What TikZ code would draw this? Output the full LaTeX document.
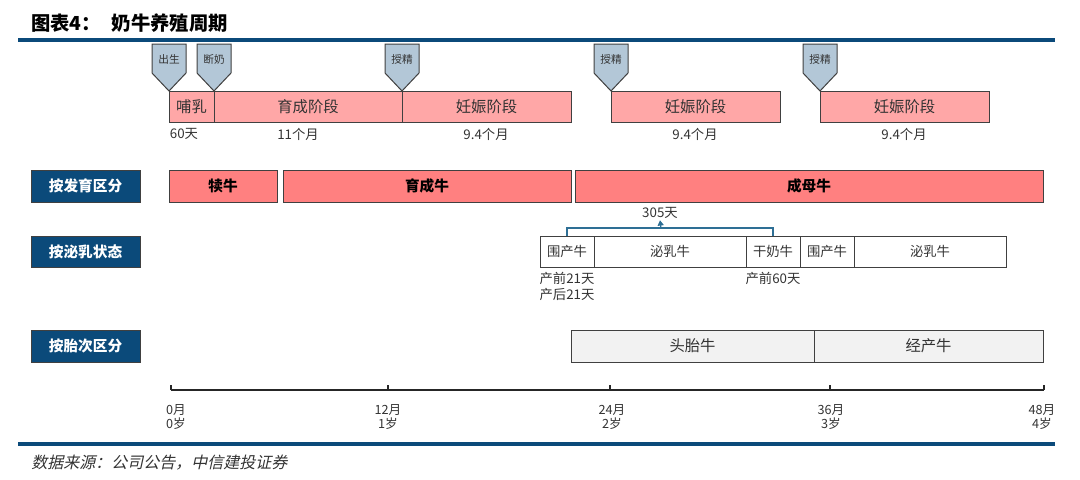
\documentclass[tikz,border=0pt]{standalone}
\usepackage{fontspec}
\setmainfont{Noto Sans CJK SC}
\newfontfamily\footfont{Noto Sans CJK SC}[FakeSlant=0.22]
\usetikzlibrary{arrows.meta}
\definecolor{navy}{HTML}{0B4A7A}
\definecolor{flagblue}{HTML}{B3C7D7}
\definecolor{stagepink}{HTML}{FFA7A7}
\definecolor{growred}{HTML}{FF8080}
\definecolor{paritygray}{HTML}{F2F2F2}
\definecolor{edgegray}{HTML}{404040}
\definecolor{txt}{HTML}{333333}
\definecolor{brk}{HTML}{2E6F95}
\newcommand\seg[7]{\node[#1, minimum width={(#4-#3)*0.75pt}, minimum height={(#6-#5)*0.75pt}] (#2) at ({(#3+#4)/2},{(#5+#6)/2}) {#7};}
\newcommand\flagat[3]{\draw[flagshape] (#2-17,44) -- (#2+17,44) -- (#2+17,73) -- (#2,91) -- (#2-17,73) -- cycle;
  \node[flagtext] (#1) at (#2,59) {#3};}
\begin{document}
\begin{tikzpicture}[x=0.75pt,y=-0.75pt,
  segbox/.style={draw=edgegray, line width=0.75pt, inner sep=0pt, outer sep=0pt},
  stagebox/.style={segbox, fill=stagepink, text=txt, font=\fontsize{11.5}{13}\selectfont},
  devbox/.style={segbox, fill=growred, text=black, font=\bfseries\fontsize{11}{13}\selectfont},
  lactbox/.style={segbox, fill=white, text=txt, font=\fontsize{10}{12}\selectfont},
  paritybox/.style={segbox, fill=paritygray, text=txt, font=\fontsize{11.5}{13}\selectfont},
  catbox/.style={segbox, fill=navy, text=white, font=\bfseries\fontsize{11}{13}\selectfont},
  flagshape/.style={draw=edgegray, fill=flagblue, line width=0.75pt, line join=miter},
  flagtext/.style={text=txt, font=\fontsize{8}{9}\selectfont, inner sep=1pt},
  notetext/.style={text=txt, font=\fontsize{10}{12}\selectfont, inner sep=1pt, align=center},
  axislbl/.style={text=txt, font=\fontsize{9.5}{11.2}\selectfont, inner sep=1pt, align=center},
  bracketline/.style={draw=brk, line width=0.9pt},
  rulebar/.style={draw=navy, line width=2.3pt}]
\useasboundingbox (0,0) rectangle (1080,479);

% title and rules
\node[anchor=west, inner sep=0pt, font=\bfseries\fontsize{14.5}{16}\selectfont] (title) at (31,23) {图表4：\hspace{0.55em}奶牛养殖周期};
\coordinate (rt1) at (18,40); \coordinate (rt2) at (1055,40);
\draw[rulebar] (rt1) -- (rt2);
\coordinate (rb1) at (18,444); \coordinate (rb2) at (1055,444);
\draw[rulebar] (rb1) -- (rb2);

% flags
\flagat{f1}{169}{出生}
\flagat{f2}{214}{断奶}
\flagat{f3}{402}{授精}
\flagat{f4}{611}{授精}
\flagat{f5}{820}{授精}

% top stage boxes
\seg{stagebox}{s1}{169}{214}{91}{122}{哺乳}
\seg{stagebox}{s2}{214}{402}{91}{122}{育成阶段}
\seg{stagebox}{s3}{402}{571}{91}{122}{妊娠阶段}
\seg{stagebox}{s4}{611}{780}{91}{122}{妊娠阶段}
\seg{stagebox}{s5}{820}{989}{91}{122}{妊娠阶段}
\node[notetext] (d1) at (184,134) {60天};
\node[notetext] (d2) at (298,134) {11个月};
\node[notetext] (d3) at (486,134) {9.4个月};
\node[notetext] (d4) at (695,134) {9.4个月};
\node[notetext] (d5) at (904,134) {9.4个月};

% category labels
\seg{catbox}{c1}{31}{140}{170}{202}{按发育区分}
\seg{catbox}{c2}{31}{140}{236}{267}{按泌乳状态}
\seg{catbox}{c3}{31}{140}{330}{362}{按胎次区分}

% row 2
\seg{devbox}{g1}{169}{277}{170}{202}{犊牛}
\seg{devbox}{g2}{283}{571}{170}{202}{育成牛}
\seg{devbox}{g3}{575}{1043}{170}{202}{成母牛}

% row 3
\seg{lactbox}{l1}{540}{594}{236}{267}{围产牛}
\seg{lactbox}{l2}{594}{746}{236}{267}{泌乳牛}
\seg{lactbox}{l3}{746}{800}{236}{267}{干奶牛}
\seg{lactbox}{l4}{800}{854}{236}{267}{围产牛}
\seg{lactbox}{l5}{854}{1006}{236}{267}{泌乳牛}
\draw[bracketline] (l1.north) -- ++(0,-8) -| (l3.north);
\node[notetext] (d305) at (660,213) {305天};
\coordinate (bm) at (661,228);
\draw[bracketline, -{Triangle[length=4pt,width=4.5pt]}] (bm) -- (d305.south);
\node[notetext, anchor=north] (n1) at (567,271) {产前21天\\产后21天};
\node[notetext, anchor=north] (n2) at (773,271) {产前60天};

% row 4
\seg{paritybox}{p1}{571}{814}{330}{362}{头胎牛}
\seg{paritybox}{p2}{814}{1043}{330}{362}{经产牛}

% axis
\coordinate (t0) at (171,390);
\coordinate (t12) at (388,390);
\coordinate (t24) at (610,390);
\coordinate (t36) at (830,390);
\coordinate (t48) at (1044,390);
\draw[draw=black!85, line width=1pt] (t0) -- (t48);
\foreach \t in {t0,t12,t24,t36,t48} \draw[draw=black!85, line width=1pt] (\t) -- ++(0,-5);
\node[axislbl] (a0) at (176,417) {0月\\0岁};
\node[axislbl] (a12) at (388,417) {12月\\1岁};
\node[axislbl] (a24) at (612,417) {24月\\2岁};
\node[axislbl] (a36) at (831,417) {36月\\3岁};
\node[axislbl] (a48) at (1042,417) {48月\\4岁};

% footer
\node[anchor=west, inner sep=0pt, text=txt, font=\footfont\fontsize{12}{14}\selectfont] (src) at (31,463) {数据来源：公司公告，中信建投证券};
\end{tikzpicture}
\end{document}
